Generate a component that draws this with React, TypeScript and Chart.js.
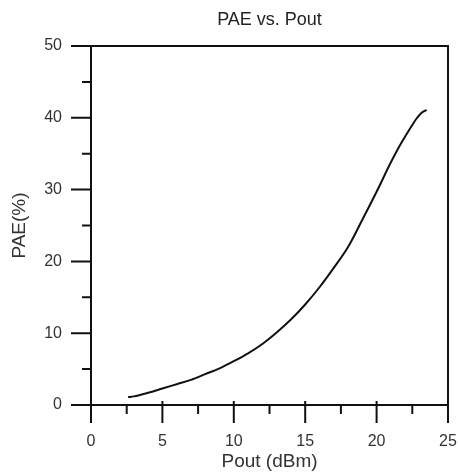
import React, { useEffect, useRef } from "react";
import { Chart, registerables } from "chart.js";

Chart.register(...registerables);

const titleText = "PAE vs. Pout";
const xTitle = "Pout (dBm)";
const yTitle = "PAE(%)";
const pout = [2.6, 3, 4, 5, 6, 7, 8, 9, 10, 11, 12, 13, 14, 15, 16, 17, 18, 19, 20, 21, 21.5, 22, 22.5, 22.8, 23.1, 23.5];
const pae = [1.1, 1.2, 1.7, 2.3, 2.9, 3.5, 4.3, 5.1, 6.1, 7.2, 8.5, 10.1, 11.9, 14.0, 16.4, 19.1, 22.0, 25.8, 29.7, 33.8, 35.7, 37.4, 39.0, 39.9, 40.6, 41.1];
const xMajor = [0, 5, 10, 15, 20, 25];
const xMinor = [2.5, 7.5, 12.5, 17.5, 22.5];
const yMajor = [0, 10, 20, 30, 40, 50];
const yMinor = [5, 15, 25, 35, 45];

const FONT = "'Liberation Sans', Arial, Helvetica, sans-serif";

const framePlugin = {
  id: "frameTicks",
  afterDraw(chart: any) {
    const { ctx, chartArea } = chart;
    const xs = chart.scales.x;
    const ys = chart.scales.y;
    const { left, right, top, bottom } = chartArea;
    ctx.save();
    ctx.strokeStyle = "#111";
    ctx.lineWidth = 2;
    ctx.strokeRect(left, top, right - left, bottom - top);
    ctx.beginPath();
    xMajor.forEach((v) => {
      const px = xs.getPixelForValue(v);
      ctx.moveTo(px, bottom - 4);
      ctx.lineTo(px, bottom + 18);
    });
    xMinor.forEach((v) => {
      const px = xs.getPixelForValue(v);
      ctx.moveTo(px, bottom);
      ctx.lineTo(px, bottom + 9);
    });
    yMajor.forEach((v) => {
      const py = ys.getPixelForValue(v);
      ctx.moveTo(left - 20, py);
      ctx.lineTo(left, py);
    });
    yMinor.forEach((v) => {
      const py = ys.getPixelForValue(v);
      ctx.moveTo(left - 9, py);
      ctx.lineTo(left, py);
    });
    ctx.stroke();
    ctx.restore();
  },
};

export default function App() {
  const ref = useRef<HTMLCanvasElement>(null);
  useEffect(() => {
    if (!ref.current) return;
    const chart = new Chart(ref.current, {
      type: "line",
      data: {
        datasets: [
          {
            data: pout.map((x, i) => ({ x, y: pae[i] })),
            borderColor: "#111",
            borderWidth: 2,
            pointRadius: 0,
            fill: false,
            cubicInterpolationMode: "monotone",
          },
        ],
      },
      options: {
        responsive: false,
        animation: false,
        layout: { padding: { left: 0, right: 10, top: 0, bottom: 0 } },
        plugins: {
          legend: { display: false },
          tooltip: { enabled: false },
          title: {
            display: true,
            text: titleText,
            fullSize: false,
            color: "#222",
            font: { family: FONT, size: 18, weight: "normal" },
            padding: { top: 9, bottom: 15.4 },
          },
        },
        scales: {
          x: {
            type: "linear",
            min: 0,
            max: 25,
            grid: { display: false, drawTicks: false },
            border: { display: false },
            ticks: {
              stepSize: 5,
              padding: 27,
              color: "#333",
              font: { family: FONT, size: 16 },
              maxRotation: 0,
            },
            title: {
              display: true,
              text: xTitle,
              color: "#333",
              font: { family: FONT, size: 19 },
              padding: { top: 0, bottom: 1 },
            },
            afterFit(scale: any) {
              scale.height = 69;
              scale.paddingLeft = 0;
              scale.paddingRight = 0;
            },
          },
          y: {
            type: "linear",
            min: 0,
            max: 50,
            grid: { display: false, drawTicks: false },
            border: { display: false },
            ticks: {
              stepSize: 10,
              padding: 29,
              color: "#333",
              font: { family: FONT, size: 16 },
            },
            title: {
              display: true,
              text: yTitle,
              color: "#333",
              font: { family: FONT, size: 19 },
              padding: { top: 8, bottom: 0 },
            },
            afterFit(scale: any) {
              scale.width = 91;
              scale.paddingTop = 0;
              scale.paddingBottom = 0;
            },
          },
        },
      } as any,
      plugins: [framePlugin],
    });
    return () => chart.destroy();
  }, []);
  return (
    <div style={{ position: "fixed", left: 0, top: 0, width: 458, height: 474, background: "#fff" }}>
      <canvas ref={ref} width={458} height={474} style={{ display: "block" }} />
    </div>
  );
}
